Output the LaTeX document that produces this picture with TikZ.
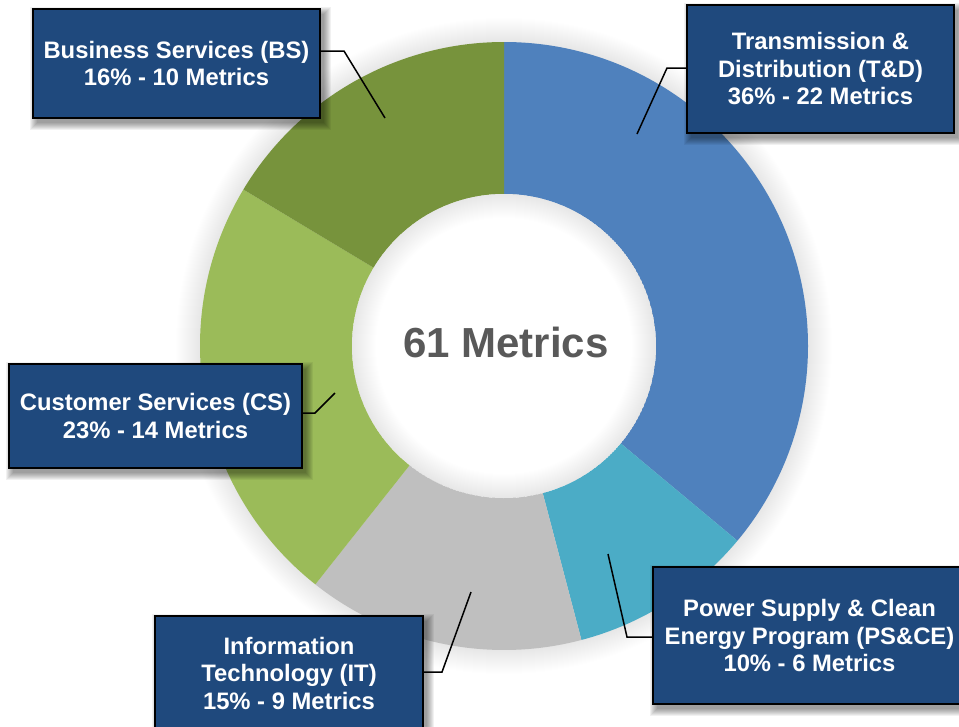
\documentclass[tikz,border=0pt]{standalone}
\usepackage{fontspec}
\setmainfont{Liberation Sans}
\usetikzlibrary{calc}
\definecolor{tdblue}{HTML}{4F81BD}
\definecolor{psteal}{HTML}{4BACC6}
\definecolor{itgray}{HTML}{BFBFBF}
\definecolor{csgreen}{HTML}{9BBB59}
\definecolor{bsgreen}{HTML}{77933C}
\definecolor{boxblue}{HTML}{1F497D}
\definecolor{ctrgray}{HTML}{595959}
\newcommand\wedgefill[3]{\fill[#3] (#1:304) arc[start angle=#1,end angle=#2,radius=304] -- (#2:152) arc[start angle=#2,end angle=#1,radius=152] -- cycle;}
\newcommand\lbox[6]{%
  \foreach \k in {0,...,7}{\fill[black,opacity=0.055] (#2-#4/2+4-\k, #3-#5/2+5-\k) rectangle (#2+#4/2+4+\k, #3+#5/2+5+\k);}
  \node[lbl, minimum width=#4pt, minimum height=#5pt] (#1) at (#2,#3) {#6};
}
\begin{document}
\begin{tikzpicture}[x=1pt,y=-1pt,
  lbl/.style={draw=black, line width=1.5pt, fill=boxblue, text=white, inner sep=0pt, align=center,
     font=\fontsize{23.8}{27.5}\selectfont\bfseries},
  leader/.style={draw=black, line width=1.5pt}]
\useasboundingbox (0,0) rectangle (959,726);
\fill[white] (0,0) rectangle (959,726);
\begin{scope}[shift={(504,346)}]
  % outer glow
  \foreach \i in {1,...,24}{\fill[black,opacity=0.0045] (0,0) circle[radius=304+\i];}
  \wedgefill{-90}{39.836}{tdblue}
  \wedgefill{39.836}{75.246}{psteal}
  \wedgefill{75.246}{128.361}{itgray}
  \wedgefill{128.361}{210.984}{csgreen}
  \wedgefill{210.984}{270}{bsgreen}
  % inner shadow
  \begin{scope}
    \clip (0,0) circle[radius=152];
    \fill[white] (0,0) circle[radius=152];
    \foreach \i in {1,...,24}{\fill[black,opacity=0.0045,even odd rule] (0,0) circle[radius=170] (0,0) circle[radius=152-\i];}
  \end{scope}
\end{scope}
\node[anchor=base, text=ctrgray, font=\fontsize{42}{48}\selectfont\bfseries, inner sep=0pt] (ctr) at (506,357) {61 Metrics};
% connector points
\coordinate (bsknee) at (344,51);  \coordinate (bsend) at (385,118);
\coordinate (tdknee) at (667,68);  \coordinate (tdend) at (637,134);
\coordinate (csknee) at (315,413); \coordinate (csend) at (335,393);
\coordinate (itknee) at (442,672); \coordinate (itend) at (471,592);
\coordinate (psknee) at (627,637); \coordinate (psend) at (608,554);
% label boxes
\lbox{bs}{176.5}{63.5}{287}{109}{Business Services (BS)\\16\% - 10 Metrics}
\lbox{td}{820.5}{69}{267}{128}{Transmission \&\\Distribution (T\&D)\\36\% - 22 Metrics}
\lbox{cs}{155.5}{416}{293}{104}{Customer Services (CS)\\23\% - 14 Metrics}
\lbox{it}{289}{673}{268}{114}{Information\\Technology (IT)\\15\% - 9 Metrics}
\lbox{ps}{809.5}{635.5}{313}{137}{Power Supply \& Clean\\Energy Program (PS\&CE)\\10\% - 6 Metrics}
% leaders
\draw[leader] (bs.east |- bsknee) -- (bsknee) -- (bsend);
\draw[leader] (td.west |- tdknee) -- (tdknee) -- (tdend);
\draw[leader] (cs.east |- csknee) -- (csknee) -- (csend);
\draw[leader] (it.east |- itknee) -- (itknee) -- (itend);
\draw[leader] (ps.west |- psknee) -- (psknee) -- (psend);
\end{tikzpicture}
\end{document}
